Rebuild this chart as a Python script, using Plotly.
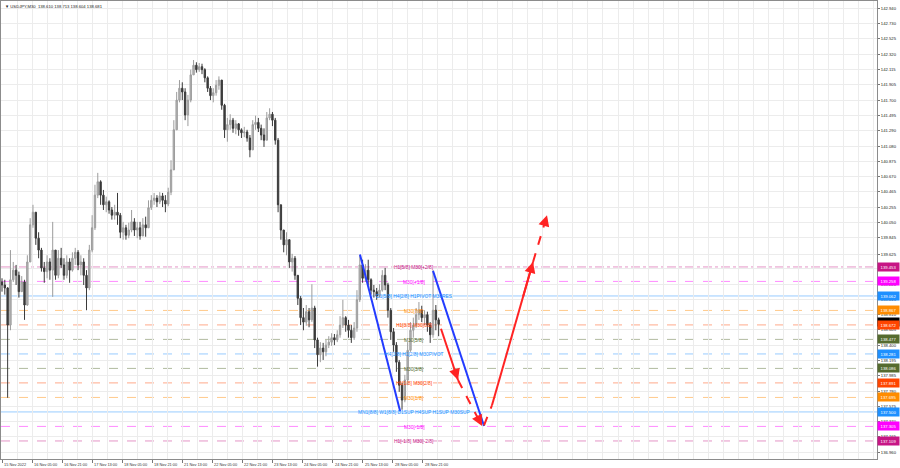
import plotly.graph_objects as go

# ---------------- data ----------------
# one candle per 3 M30 bars (x = M30 bar index counted from 15 Nov 13:00)
first_open = 139.25
closes = [
    139.21, 139.17, 138.67, 139.28, 139.41, 139.34, 139.12, 139.25, 138.94, 139.52,
    140.02, 140.19, 139.84, 139.68, 139.44, 139.39, 139.52, 139.41, 139.68, 139.34,
    139.57, 139.48, 139.34, 139.52, 139.41, 139.57, 139.65, 139.48, 139.52, 139.34,
    139.17, 139.68, 139.98, 140.42, 140.60, 140.42, 140.29, 140.33, 140.22, 140.15,
    140.19, 140.15, 139.92, 139.98, 139.88, 139.95, 140.06, 139.95, 139.98, 139.87,
    140.02, 139.98, 140.25, 140.35, 140.38, 140.33, 140.41, 140.35, 140.30, 140.46,
    140.76, 141.30, 141.70, 141.86, 141.81, 141.50, 141.70, 142.04, 142.17, 142.11,
    142.15, 142.11, 142.00, 141.86, 141.76, 141.80, 141.90, 141.97, 141.63, 141.30,
    141.37, 141.43, 141.32, 141.38, 141.30, 141.26, 141.27, 141.19, 141.03, 141.37,
    141.40, 141.32, 141.23, 141.16, 141.46, 141.51, 141.43, 141.16, 140.29, 139.95,
    139.75, 139.82, 139.52, 139.57, 139.34, 139.03, 138.77, 138.71, 138.85, 138.74,
    138.90, 138.47, 138.27, 138.36, 138.31, 138.40, 138.44, 138.50, 138.47, 138.54,
    138.67, 138.77, 138.67, 138.60, 138.50, 138.63, 139.01, 139.48, 139.30, 139.41,
    139.28, 139.14, 139.12, 139.06, 139.14, 139.34, 139.21, 138.87, 138.58, 138.40,
    138.17, 137.86, 137.66, 137.93, 138.33, 138.60, 138.67, 138.81, 138.87, 138.77,
    138.81, 138.67, 138.54, 138.87, 138.74, 138.68,
]
highs = [
    139.30, 139.28, 139.18, 139.68, 139.52, 139.48, 139.39, 139.33, 139.28, 139.61,
    140.11, 140.29, 140.15, 139.92, 139.71, 139.52, 139.61, 139.57, 140.06, 139.68,
    139.68, 139.71, 139.57, 139.61, 139.57, 139.65, 139.71, 139.68, 139.61, 139.57,
    139.41, 139.75, 140.15, 140.56, 140.72, 140.62, 140.49, 140.40, 140.35, 140.26,
    140.29, 140.45, 140.18, 140.06, 140.02, 140.05, 140.22, 140.11, 140.06, 140.06,
    140.11, 140.13, 140.35, 140.42, 140.45, 140.42, 140.46, 140.45, 140.42, 140.52,
    140.89, 141.43, 141.81, 141.97, 141.94, 141.86, 141.77, 142.11, 142.24, 142.21,
    142.20, 142.19, 142.13, 142.02, 141.89, 141.86, 141.97, 142.02, 141.97, 141.65,
    141.46, 141.51, 141.46, 141.43, 141.39, 141.32, 141.34, 141.30, 141.23, 141.43,
    141.49, 141.46, 141.37, 141.32, 141.54, 141.59, 141.54, 141.46, 141.19, 140.29,
    139.95, 139.92, 139.82, 139.63, 139.60, 139.34, 139.06, 138.90, 138.94, 138.90,
    139.22, 138.93, 138.50, 138.44, 138.43, 138.47, 138.52, 138.56, 138.55, 138.60,
    138.79, 139.01, 138.79, 138.74, 138.67, 138.71, 139.14, 139.61, 139.55, 139.49,
    139.55, 139.30, 139.21, 139.17, 139.22, 139.41, 139.44, 139.24, 138.90, 138.63,
    138.44, 138.20, 137.89, 138.00, 138.44, 138.71, 138.77, 138.90, 138.98, 138.93,
    138.87, 138.85, 138.71, 139.41, 138.94, 138.77,
]
lows = [
    139.12, 139.08, 137.69, 138.60, 139.25, 139.21, 139.04, 139.12, 138.74, 138.93,
    139.52, 139.98, 139.75, 139.57, 139.39, 139.24, 139.30, 139.28, 139.05, 139.28,
    139.30, 139.44, 139.28, 139.30, 139.24, 139.39, 139.48, 139.41, 139.34, 139.21,
    138.87, 139.14, 139.65, 139.95, 140.38, 140.29, 140.22, 140.19, 140.17, 140.09,
    140.09, 140.02, 139.84, 139.82, 139.82, 139.84, 139.92, 139.87, 139.84, 139.82,
    139.87, 139.86, 139.98, 140.22, 140.29, 140.26, 140.30, 140.26, 140.19, 140.27,
    140.42, 140.79, 141.30, 141.67, 141.70, 141.43, 141.35, 141.67, 142.04, 142.07,
    142.08, 142.05, 141.94, 141.81, 141.70, 141.67, 141.76, 141.84, 141.57, 141.19,
    141.14, 141.30, 141.26, 141.24, 141.22, 141.19, 141.20, 141.14, 140.93, 141.03,
    141.30, 141.27, 141.16, 141.07, 141.16, 141.43, 141.35, 141.10, 140.19, 139.82,
    139.65, 139.61, 139.44, 139.39, 139.28, 138.94, 138.67, 138.60, 138.66, 138.64,
    138.71, 138.36, 138.11, 138.17, 138.20, 138.25, 138.36, 138.39, 138.40, 138.44,
    138.50, 138.63, 138.58, 138.50, 138.43, 138.47, 138.58, 138.98, 139.24, 139.25,
    139.21, 139.08, 139.04, 139.01, 139.04, 139.12, 139.14, 138.77, 138.47, 138.31,
    138.04, 137.77, 137.53, 137.63, 137.86, 138.31, 138.50, 138.63, 138.74, 138.71,
    138.67, 138.58, 138.43, 138.50, 138.60, 138.52,
]
bar_step = 3

# Murrey-math style levels
level_prices = [139.453, 139.258, 139.062, 138.867, 138.672, 138.477, 138.281,
                138.086, 137.891, 137.695, 137.500, 137.305, 137.109]
level_texts = ["H1[5/8] M30[+2/8]", "M30[+1/8]", "D1[5/8] H4[2/8] H1PIVOT M30RES",
               "M30[7/8]", "H1[3/8] M30[6/8]", "M30[5/8]", "H4[1/8] H1[2/8] M30PIVOT",
               "M30[3/8]", "H1[1/8] M30[2/8]", "M30[1/8]",
               "MN1[8/8] W1[8/8] D1SUP H4SUP H1SUP M30SUP", "M30[-1/8]", "H1[-1/8] M30[-2/8]"]
level_colors = ["#c71585", "#ff00ff", "#1e90ff", "#ff8c00", "#ff4500", "#556b2f", "#1e90ff",
                "#556b2f", "#ff4500", "#ff8c00", "#1e90ff", "#ff00ff", "#c71585"]
level_dash = ["dashdot", "dash", "solid", "dash", "dash", "dash", "dash",
              "dash", "dash", "dash", "solid", "dash", "dash"]
bid_price = 138.681

# channel lines (x in M30 bars, y price)
blue1_x = [381.2, 424.0]
blue1_y = [139.62, 137.51]
blue2_x = [459.0, 513.3]
blue2_y = [139.40, 137.31]
# projected path
red_x = [467.5, 485.6, 511.2, 513.3, 521.8, 565.5, 580.4]
red_y = [138.62, 137.93, 137.31, 137.32, 137.59, 139.52, 140.15]

# axes
y_ticks = [142.940, 142.730, 142.525, 142.320, 142.115, 141.905, 141.700, 141.495,
           141.290, 141.080, 140.875, 140.670, 140.465, 140.255, 140.050, 139.845,
           139.625, 139.430, 139.220, 139.015, 138.810, 138.605, 138.400, 138.195,
           137.985, 137.780, 137.575, 137.370, 137.165, 136.960]
x_label_pos = [0, 32, 64, 96, 128, 160, 192, 224, 256, 288, 320, 352, 384, 416, 448]
x_labels = ["15 Nov 2022", "16 Nov 05:00", "16 Nov 21:00", "17 Nov 13:00", "18 Nov 05:00",
            "18 Nov 21:00", "21 Nov 13:00", "22 Nov 05:00", "22 Nov 21:00", "23 Nov 13:00",
            "24 Nov 05:00", "24 Nov 21:00", "25 Nov 13:00", "28 Nov 05:00", "28 Nov 21:00"]
title_text = "USDJPY,M30  138.610 138.713 138.604 138.681"

# ---------------- figure ----------------
FONT = "Liberation Sans, Arial, sans-serif"
SMALL = 4.2
xs = [bar_step * i for i in range(len(closes))]
opens = [first_open] + closes[:-1]
hi = [max(h, o, c) for h, o, c in zip(highs, opens, closes)]
lo = [min(l, o, c) for l, o, c in zip(lows, opens, closes)]

fig = go.Figure()
shapes = []
annotations = []

for p, col, d in zip(level_prices, level_colors, level_dash):
    shapes.append(dict(type="line", xref="paper", x0=0, x1=1, yref="y", y0=p, y1=p,
                       line=dict(color=col, width=1, dash=d), opacity=0.45, layer="below"))

fig.add_trace(go.Candlestick(
    x=xs, open=opens, high=hi, low=lo, close=closes,
    increasing=dict(line=dict(color="#9c9c9c", width=1), fillcolor="#b8b8b8"),
    decreasing=dict(line=dict(color="#3a3a3a", width=1), fillcolor="#3a3a3a"),
    whiskerwidth=0, hoverinfo="skip"))

BLUE = "rgb(35,60,255)"
RED = "rgb(255,35,35)"
for bx, by in ((blue1_x, blue1_y), (blue2_x, blue2_y)):
    fig.add_trace(go.Scatter(x=bx, y=by, mode="lines", line=dict(color=BLUE, width=2),
                             hoverinfo="skip"))

red_segments = [(0, 1, "solid"), (1, 2, "dash"), (3, 4, "dash"), (4, 5, "solid"), (5, 6, "dash")]
for a, b, d in red_segments:
    fig.add_trace(go.Scatter(x=[red_x[a], red_x[b]], y=[red_y[a], red_y[b]], mode="lines",
                             line=dict(color=RED, width=2, dash=d), hoverinfo="skip"))
for a, b in ((0, 1), (1, 2), (4, 5), (5, 6)):
    tx = red_x[b] - 0.25 * (red_x[b] - red_x[a])
    ty = red_y[b] - 0.25 * (red_y[b] - red_y[a])
    annotations.append(dict(x=red_x[b], y=red_y[b], ax=tx, ay=ty, xref="x", yref="y",
                            axref="x", ayref="y", showarrow=True, arrowhead=2, arrowsize=1.1,
                            arrowwidth=2, arrowcolor=RED, text=""))

# level labels in chart
for p, t, col in zip(level_prices, level_texts, level_colors):
    annotations.append(dict(x=439, y=p, xref="x", yref="y", text=t, showarrow=False,
                            xanchor="center", yanchor="middle", yshift=-1,
                            font=dict(family=FONT, size=4.9, color=col)))

# right price boxes
annotations.append(dict(x=1, y=bid_price, xref="paper", yref="y", text="138.681",
                        showarrow=False, xanchor="left", yanchor="middle", xshift=0, yshift=2,
                        bgcolor="#000000", width=21, height=8, borderpad=0,
                        font=dict(family=FONT, size=SMALL, color="#ff7a30")))
for p, col in zip(level_prices, level_colors):
    annotations.append(dict(x=1, y=p, xref="paper", yref="y", text=f"{p:.3f}",
                            showarrow=False, xanchor="left", yanchor="middle", xshift=0,
                            bgcolor=col, width=21, height=8, borderpad=0,
                            font=dict(family=FONT, size=SMALL, color="#ffffff")))

# x labels (left aligned like MT4)
for k, t in zip(x_label_pos, x_labels):
    annotations.append(dict(x=k, y=0, xref="x", yref="paper", text=t, showarrow=False,
                            xanchor="left", yanchor="top", xshift=0, yshift=-1,
                            font=dict(family=FONT, size=3.9, color="#333333")))

annotations.append(dict(x=0, y=1, xref="paper", yref="paper", text="▼ " + title_text,
                        showarrow=False, xanchor="left", yanchor="top", xshift=2, yshift=-1,
                        font=dict(family=FONT, size=SMALL, color="#222222")))

fig.update_layout(
    width=900, height=468, margin=dict(l=1, r=23, t=1, b=9),
    paper_bgcolor="white", plot_bgcolor="white", showlegend=False,
    shapes=shapes, annotations=annotations,
    xaxis=dict(range=[-1.06, 931.8], rangeslider=dict(visible=False),
               tickvals=x_label_pos, showticklabels=False, ticks="outside", ticklen=3,
               tickcolor="#777777", showgrid=True, gridcolor="#ececec", gridwidth=1,
               minor=dict(tick0=0, dtick=16, showgrid=True, gridcolor="#ececec", ticks=""),
               showline=True, linecolor="#8c8c8c", mirror=True, zeroline=False, fixedrange=True),
    yaxis=dict(range=[136.866, 143.035], side="right", tickvals=y_ticks,
               ticktext=[f"{v:.3f}" for v in y_ticks], ticks="outside", ticklen=2,
               tickcolor="#777777", tickfont=dict(family=FONT, size=SMALL, color="#222222"),
               showgrid=True, gridcolor="#ececec", gridwidth=1,
               showline=True, linecolor="#8c8c8c", mirror=True, zeroline=False, fixedrange=True),
)

fig.write_html("out.html", config={"displayModeBar": False},
               post_script="document.body.style.margin='0';document.body.style.overflow='hidden';")
